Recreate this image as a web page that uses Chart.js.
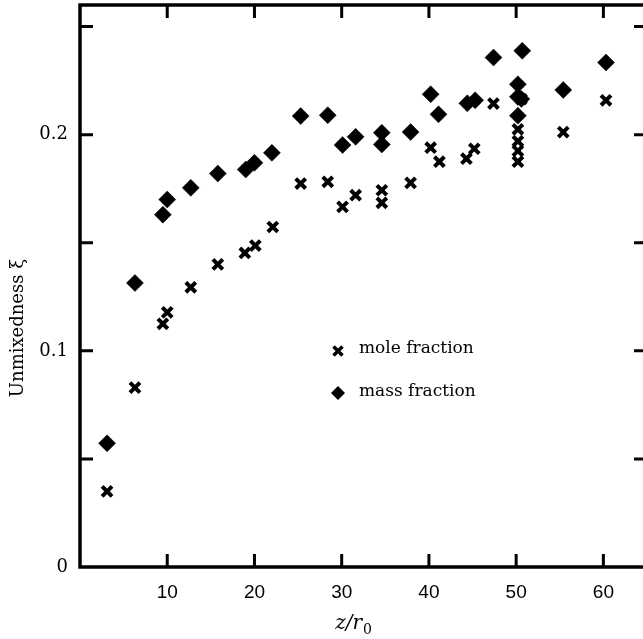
<!DOCTYPE html>
<html><head><meta charset="utf-8">
<script src="https://cdn.jsdelivr.net/npm/chart.js@4.4.1/dist/chart.umd.min.js"></script>
<style>
html,body{margin:0;padding:0;background:#fff;overflow:hidden;width:643px;height:639px}
canvas{display:block}
</style></head>
<body><canvas id="c" width="650" height="639"></canvas>
<script>
// ---- data ----
const moleX = [3.1, 6.3, 9.5, 10.0, 12.7, 15.8, 18.9, 20.1, 22.1, 25.3, 28.4, 30.1, 31.6, 34.6, 34.6, 37.9, 40.2, 41.2, 44.3, 45.2, 47.4, 50.2, 50.2, 50.2, 50.2, 50.6, 55.4, 60.3];
const moleY = [0.035, 0.083, 0.1125, 0.1178, 0.1294, 0.140, 0.1453, 0.1487, 0.1573, 0.1774, 0.1782, 0.1666, 0.172, 0.1743, 0.1685, 0.1777, 0.194, 0.1875, 0.1889, 0.1935, 0.2144, 0.2025, 0.197, 0.1925, 0.1875, 0.2165, 0.2012, 0.2159];
const massX = [3.1, 6.3, 9.5, 10.0, 12.7, 15.8, 19.0, 20.0, 22.0, 25.3, 28.4, 30.1, 31.6, 34.6, 34.6, 37.9, 40.2, 41.1, 44.4, 45.3, 47.4, 50.2, 50.2, 50.6, 50.2, 50.7, 55.4, 60.3];
const massY = [0.0572, 0.1314, 0.163, 0.170, 0.1754, 0.182, 0.1839, 0.187, 0.1916, 0.2086, 0.209, 0.1952, 0.199, 0.2009, 0.1955, 0.2012, 0.2187, 0.2094, 0.2145, 0.2159, 0.2357, 0.2233, 0.2175, 0.2165, 0.2088, 0.2388, 0.2207, 0.2334];
const seriesLabels = ['mole fraction', 'mass fraction'];
const xTickValues = [10, 20, 30, 40, 50, 60];
const xTickLabels = ['10', '20', '30', '40', '50', '60'];
const yTickValues = [0, 0.05, 0.1, 0.15, 0.2, 0.25];
const yTickLabels = ['0', '', '0.1', '', '0.2', ''];
const yTitle = 'Unmixedness ξ';
const xTitleMain = 'z/r';
const xTitleSub = '0';

const toPts = (xs, ys) => xs.map((x, i) => ({x: x, y: ys[i]}));

const framePlugin = {
  id: 'frame',
  beforeDatasetsDraw(chart) {
    const {ctx, chartArea: a, scales} = chart;
    ctx.save();
    ctx.strokeStyle = '#000';
    ctx.lineWidth = 3.5;
    ctx.strokeRect(a.left, a.top, a.right - a.left, a.bottom - a.top);
    ctx.lineWidth = 3;
    const tl = 13;
    xTickValues.forEach(v => {
      const px = scales.x.getPixelForValue(v);
      ctx.beginPath();
      ctx.moveTo(px, a.bottom); ctx.lineTo(px, a.bottom - tl);
      ctx.moveTo(px, a.top); ctx.lineTo(px, a.top + tl);
      ctx.stroke();
    });
    yTickValues.forEach(v => {
      if (v === 0) return;
      const py = scales.y.getPixelForValue(v);
      ctx.beginPath();
      ctx.moveTo(a.left, py); ctx.lineTo(a.left + tl, py);
      ctx.moveTo(a.right, py); ctx.lineTo(a.right - tl, py);
      ctx.stroke();
    });
    ctx.restore();
  },
  afterDraw(chart) {
    const {ctx, chartArea: a} = chart;
    ctx.save();
    ctx.fillStyle = '#000';
    ctx.translate(18, (a.top + a.bottom) / 2 + 42);
    ctx.rotate(-Math.PI / 2);
    ctx.font = '18px "DejaVu Serif"';
    ctx.textAlign = 'center';
    ctx.textBaseline = 'middle';
    ctx.fillText(yTitle, 0, 0);
    ctx.restore();
    ctx.save();
    ctx.fillStyle = '#000';
    ctx.font = 'italic 20px "DejaVu Serif"';
    ctx.textBaseline = 'alphabetic';
    const w1 = ctx.measureText(xTitleMain).width;
    ctx.font = '14px "DejaVu Serif"';
    const w2 = ctx.measureText(xTitleSub).width;
    const startX = 353 - (w1 + w2) / 2;
    ctx.font = 'italic 20px "DejaVu Serif"';
    ctx.fillText(xTitleMain, startX, 629);
    ctx.font = '14px "DejaVu Serif"';
    ctx.fillText(xTitleSub, startX + w1 + 1, 634);
    ctx.restore();
    ctx.save();
    ctx.fillStyle = '#000';
    ctx.strokeStyle = '#000';
    const lx = 338;
    const ly1 = 351, ly2 = 393;
    ctx.lineWidth = 3.5;
    ctx.beginPath();
    ctx.moveTo(lx - 4.5, ly1 - 4.5); ctx.lineTo(lx + 4.5, ly1 + 4.5);
    ctx.moveTo(lx + 4.5, ly1 - 4.5); ctx.lineTo(lx - 4.5, ly1 + 4.5);
    ctx.stroke();
    ctx.beginPath();
    ctx.moveTo(lx, ly2 - 7); ctx.lineTo(lx + 7, ly2); ctx.lineTo(lx, ly2 + 7); ctx.lineTo(lx - 7, ly2);
    ctx.closePath(); ctx.fill();
    ctx.font = '17px "DejaVu Serif"';
    ctx.textBaseline = 'middle';
    ctx.fillText(seriesLabels[0], 359, ly1 - 2);
    ctx.fillText(seriesLabels[1], 359, ly2 - 1);
    ctx.restore();
  }
};

new Chart(document.getElementById('c'), {
  type: 'scatter',
  data: {
    datasets: [
      {label: seriesLabels[0], data: toPts(moleX, moleY), pointStyle: 'crossRot', radius: 7, borderWidth: 4, borderColor: '#000', backgroundColor: '#000'},
      {label: seriesLabels[1], data: toPts(massX, massY), pointStyle: 'rectRot', radius: 8.5, borderWidth: 0.5, borderColor: '#000', backgroundColor: '#000'}
    ]
  },
  options: {
    responsive: false,
    maintainAspectRatio: false,
    devicePixelRatio: 1,
    animation: false,
    events: [],
    layout: {autoPadding: false, padding: {top: 5, right: 3, left: 0, bottom: 0}},
    plugins: {legend: {display: false}, tooltip: {enabled: false}},
    scales: {
      x: {
        type: 'linear', min: 0, max: 65,
        grid: {display: false}, border: {display: false},
        afterBuildTicks: s => { s.ticks = xTickValues.map(v => ({value: v})); },
        afterFit: s => { s.height = 72; s.paddingLeft = 0; s.paddingRight = 0; },
        ticks: {autoSkip: false, maxRotation: 0, padding: 6, color: '#000',
          font: {family: '"Liberation Sans"', size: 19},
          callback: v => xTickLabels[xTickValues.indexOf(v)]}
      },
      y: {
        type: 'linear', min: 0, max: 0.26,
        grid: {display: false}, border: {display: false},
        afterBuildTicks: s => { s.ticks = yTickValues.map(v => ({value: v})); },
        afterFit: s => { s.width = 80; s.paddingTop = 0; s.paddingBottom = 0; },
        ticks: {autoSkip: false, padding: 4, color: '#000',
          font: {family: '"DejaVu Serif"', size: 18},
          callback: v => yTickLabels[yTickValues.indexOf(v)]}
      }
    }
  },
  plugins: [framePlugin]
});
</script>
</body></html>
